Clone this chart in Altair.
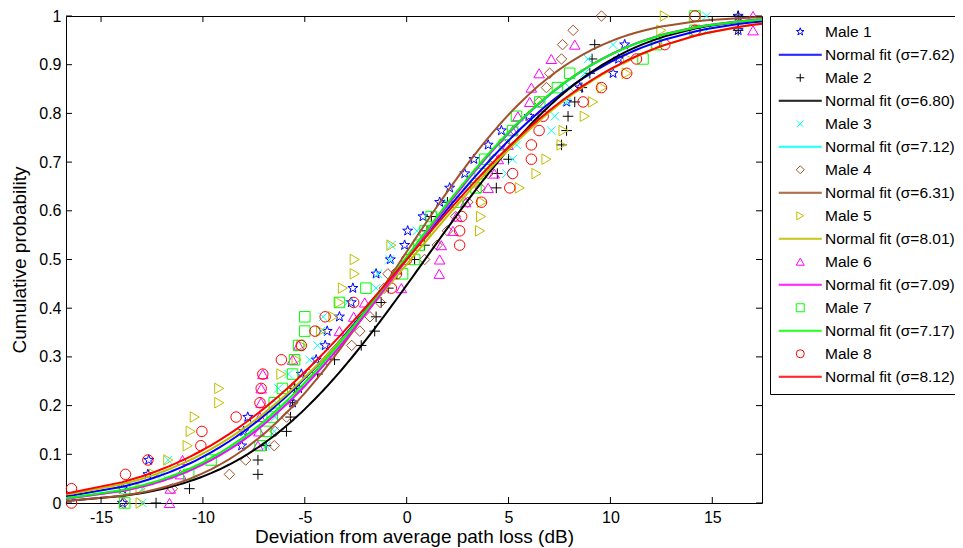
import math
import altair as alt
import pandas as pd

# ---------------- data ----------------
series = ["Male 1", "Male 2", "Male 3", "Male 4", "Male 5", "Male 6", "Male 7", "Male 8"]
sigmas = [7.62, 6.80, 7.12, 6.31, 8.01, 7.09, 7.17, 8.12]
mus = [0.0, 0.9, 0.0, -0.25, 0.2, 0.0, -0.1, 0.0]
colors = ["#0000FF", "#000000", "#00FFFF", "#A0522D", "#BFBF00", "#FF00FF", "#00FF00", "#FF0000"]

male1 = [-13.95, -13.95, -12.7, -12.66, -8.1, -8.0, -7.8, -5.6, -5.3, -5.17, -4.44, -4.0, -3.9, -3.3,
         -2.72, -2.64, -1.5, -0.8, -0.1, 0.05, 0.8, 1.62, 2.11, 2.85, 3.3, 4.0, 4.65, 6.0, 7.85, 8.5,
         10.13, 10.4, 10.7, 16.27, 16.27]
male2 = [-12.3, -10.66, -7.3, -7.3, -6.9, -5.9, -5.7, -5.6, -5.5, -4.37, -3.54, -2.23, -1.57, -1.5,
         -1.25, -0.9, -0.5, 0.39, 0.88, 1.0, 1.21, 2.0, 4.4, 4.45, 5.0, 7.6, 7.85, 7.92, 8.25, 8.6,
         8.99, 9.1, 9.23, 16.27, 16.27]
male3 = [-12.98, -12.98, -12.0, -11.7, -6.9, -6.5, -6.45, -6.4, -6.3, -5.8, -4.76, -4.37, -4.2, -4.1,
         -2.9, -1.5, -1.41, -0.83, -0.75, 0.5, 1.62, 2.0, 2.93, 4.9, 5.2, 5.4, 7.1, 7.27, 7.85, 8.0,
         8.74, 8.9, 10.13, 14.72, 14.72]
male4 = [-13.9, -11.5, -8.7, -7.9, -6.5, -6.45, -5.9, -5.6, -5.5, -4.8, -3.9, -2.7, -2.3, -1.8,
         -1.3, -1.1, -0.92, 0.88, 1.5, 2.0, 2.4, 3.0, 3.6, 4.0, 4.3, 4.8, 5.3, 6.0, 6.5, 6.86,
         7.02, 7.6, 7.65, 8.17, 9.56]
male5 = [-13.06, -13.06, -12.4, -11.7, -10.75, -10.6, -10.4, -9.2, -9.2, -6.15, -5.4, -5.17, -4.2,
         -3.6, -3.3, -3.13, -2.55, -2.55, -0.75, 3.6, 3.65, 3.7, 5.55, 6.37, 6.86, 7.6, 7.7, 8.74,
         9.15, 9.6, 10.8, 10.87, 12.26, 12.5, 12.67]
male6 = [-11.64, -11.6, -11.1, -11.0, -7.3, -7.25, -7.2, -7.15, -7.14, -7.06, -5.6, -5.3, -3.3, -2.6,
         -2.06, -0.26, 1.6, 1.62, 1.7, 2.27, 2.45, 2.9, 4.0, 4.3, 4.5, 4.97, 5.2, 5.46, 6.04, 6.12,
         6.5, 7.1, 8.25, 17.0, 17.0]
male7 = [-13.84, -13.84, -10.7, -9.6, -7.2, -6.9, -6.6, -6.5, -6.1, -5.6, -5.5, -5.3, -5.0, -5.0,
         -3.3, -2.0, -0.2, 0.39, 0.6, 0.9, 1.2, 2.5, 3.4, 3.6, 3.83, 4.8, 5.2, 5.39, 6.53, 7.4,
         8.0, 11.6, 12.26, 14.15, 14.15]
male8 = [-16.45, -16.45, -13.8, -12.7, -10.1, -10.05, -8.37, -7.2, -7.14, -7.06, -6.15, -5.17, -4.5,
         -4.0, -2.6, -0.75, -0.5, 0.0, 2.6, 2.6, 2.7, 3.67, 5.06, 5.2, 6.12, 6.12, 6.5, 6.7, 8.66,
         9.56, 10.8, 11.28, 12.67, 14.15, 14.15]
samples = [male1, male2, male3, male4, male5, male6, male7, male8]

x_lim = [-16.72, 17.44]
x_ticks = [-15, -10, -5, 0, 5, 10, 15]
y_ticks = [0, 0.1, 0.2, 0.3, 0.4, 0.5, 0.6, 0.7, 0.8, 0.9, 1.0]

# ---------------- tables ----------------
fit_labels = ["Normal fit (\u03c3=%.2f)" % s for s in sigmas]

pts_rows = []
for name, vals in zip(series, samples):
    n = len(vals)
    for k, v in enumerate(vals):
        pts_rows.append({"x": v, "y": k / (n - 1), "label": name})
pts_df = pd.DataFrame(pts_rows)

grid = sorted(set([v for vals in samples for v in vals] + x_lim))
fit_rows = []
for lab, mu, sd in zip(fit_labels, mus, sigmas):
    for v in grid:
        fit_rows.append({"x": v, "y": 0.5 * (1 + math.erf((v - mu) / (sd * math.sqrt(2)))), "label": lab})
fit_df = pd.DataFrame(fit_rows)

# ---------------- legend / scales ----------------
star_pts = []
for j in range(10):
    a = -math.pi / 2 + j * math.pi / 5
    r = 1.0 if j % 2 == 0 else 0.4
    star_pts.append("%.3f,%.3f" % (r * math.cos(a), r * math.sin(a)))
STAR = "M" + "L".join(star_pts) + "Z"
PLUS = "M-1,0L1,0M0,-1L0,1"
XMARK = "M-0.8,-0.8L0.8,0.8M-0.8,0.8L0.8,-0.8"
LINE = "M-5.375,-0.12L5.375,-0.12M-5.375,0.12L5.375,0.12"
marker_shapes = [STAR, PLUS, XMARK, "diamond", "triangle-right", "triangle-up", "square", "circle"]

domain, col_range, shp_range = [], [], []
for name, lab, c, s in zip(series, fit_labels, colors, marker_shapes):
    domain += [name, lab]
    col_range += [c, c]
    shp_range += [s, LINE]

FONT = "Liberation Sans"
W, H = 696, 487

legend = alt.Legend(title=None, orient="none", legendX=W + 8, legendY=0, direction="vertical",
                    symbolSize=64, symbolStrokeWidth=1, symbolFillColor="transparent",
                    labelFontSize=15.5, labelFont=FONT, labelColor="black", labelLimit=400,
                    padding=8, rowPadding=6, symbolOffset=14.5, labelOffset=17,
                    strokeColor="black", fillColor="white")

color_scale = alt.Scale(domain=domain, range=col_range)
shape_scale = alt.Scale(domain=domain, range=shp_range)
xscale = alt.Scale(domain=x_lim, nice=False, zero=False)
yscale = alt.Scale(domain=[0, 1], nice=False)

xaxis = alt.Axis(title="Deviation from average path loss (dB)", values=x_ticks, format="d",
                 labelExpr="replace(datum.label, '\u2212', '-')",
                 ticks=False, domain=False, grid=False, labelPadding=6, titlePadding=2)
yaxis = alt.Axis(title="Cumulative probability", values=y_ticks, format=".1~f",
                 ticks=False, domain=False, grid=False, labelPadding=5, titlePadding=9)

X = alt.X("x:Q", scale=xscale, axis=xaxis)
Y = alt.Y("y:Q", scale=yscale, axis=yaxis)

points = alt.Chart(pts_df).mark_point(filled=False, size=110, strokeWidth=1, opacity=1).encode(
    x=X, y=Y,
    color=alt.Color("label:N", scale=color_scale, legend=legend),
    shape=alt.Shape("label:N", scale=shape_scale, legend=legend),
)

lines = alt.Chart(fit_df).mark_line(strokeWidth=2).encode(
    x=X, y=Y,
    color=alt.Color("label:N", scale=color_scale, legend=legend),
)

xt = pd.DataFrame({"x": x_ticks})
yt = pd.DataFrame({"y": y_ticks})
tick_bottom = alt.Chart(xt).mark_rule(color="black", strokeWidth=1).encode(
    x=X, y=alt.value(H), y2=alt.value(H - 6))
tick_top = alt.Chart(xt).mark_rule(color="black", strokeWidth=1).encode(
    x=X, y=alt.value(0), y2=alt.value(6))
tick_left = alt.Chart(yt).mark_rule(color="black", strokeWidth=1).encode(
    y=Y, x=alt.value(0), x2=alt.value(6))
tick_right = alt.Chart(yt).mark_rule(color="black", strokeWidth=1).encode(
    y=Y, x=alt.value(W), x2=alt.value(W - 6))

chart = alt.layer(points, lines, tick_bottom, tick_top, tick_left, tick_right).properties(
    width=W, height=H,
    padding={"left": 58, "top": 8, "right": 193, "bottom": 45},
    autosize=alt.AutoSizeParams(type="none"),
    background="white",
).configure_view(stroke="black", strokeWidth=1).configure_axis(
    labelFont=FONT, titleFont=FONT, labelFontSize=16, titleFontSize=19,
    titleFontWeight="normal", labelColor="black", titleColor="black",
)

chart.save("out.html", embed_options={"renderer": "svg", "actions": False})
